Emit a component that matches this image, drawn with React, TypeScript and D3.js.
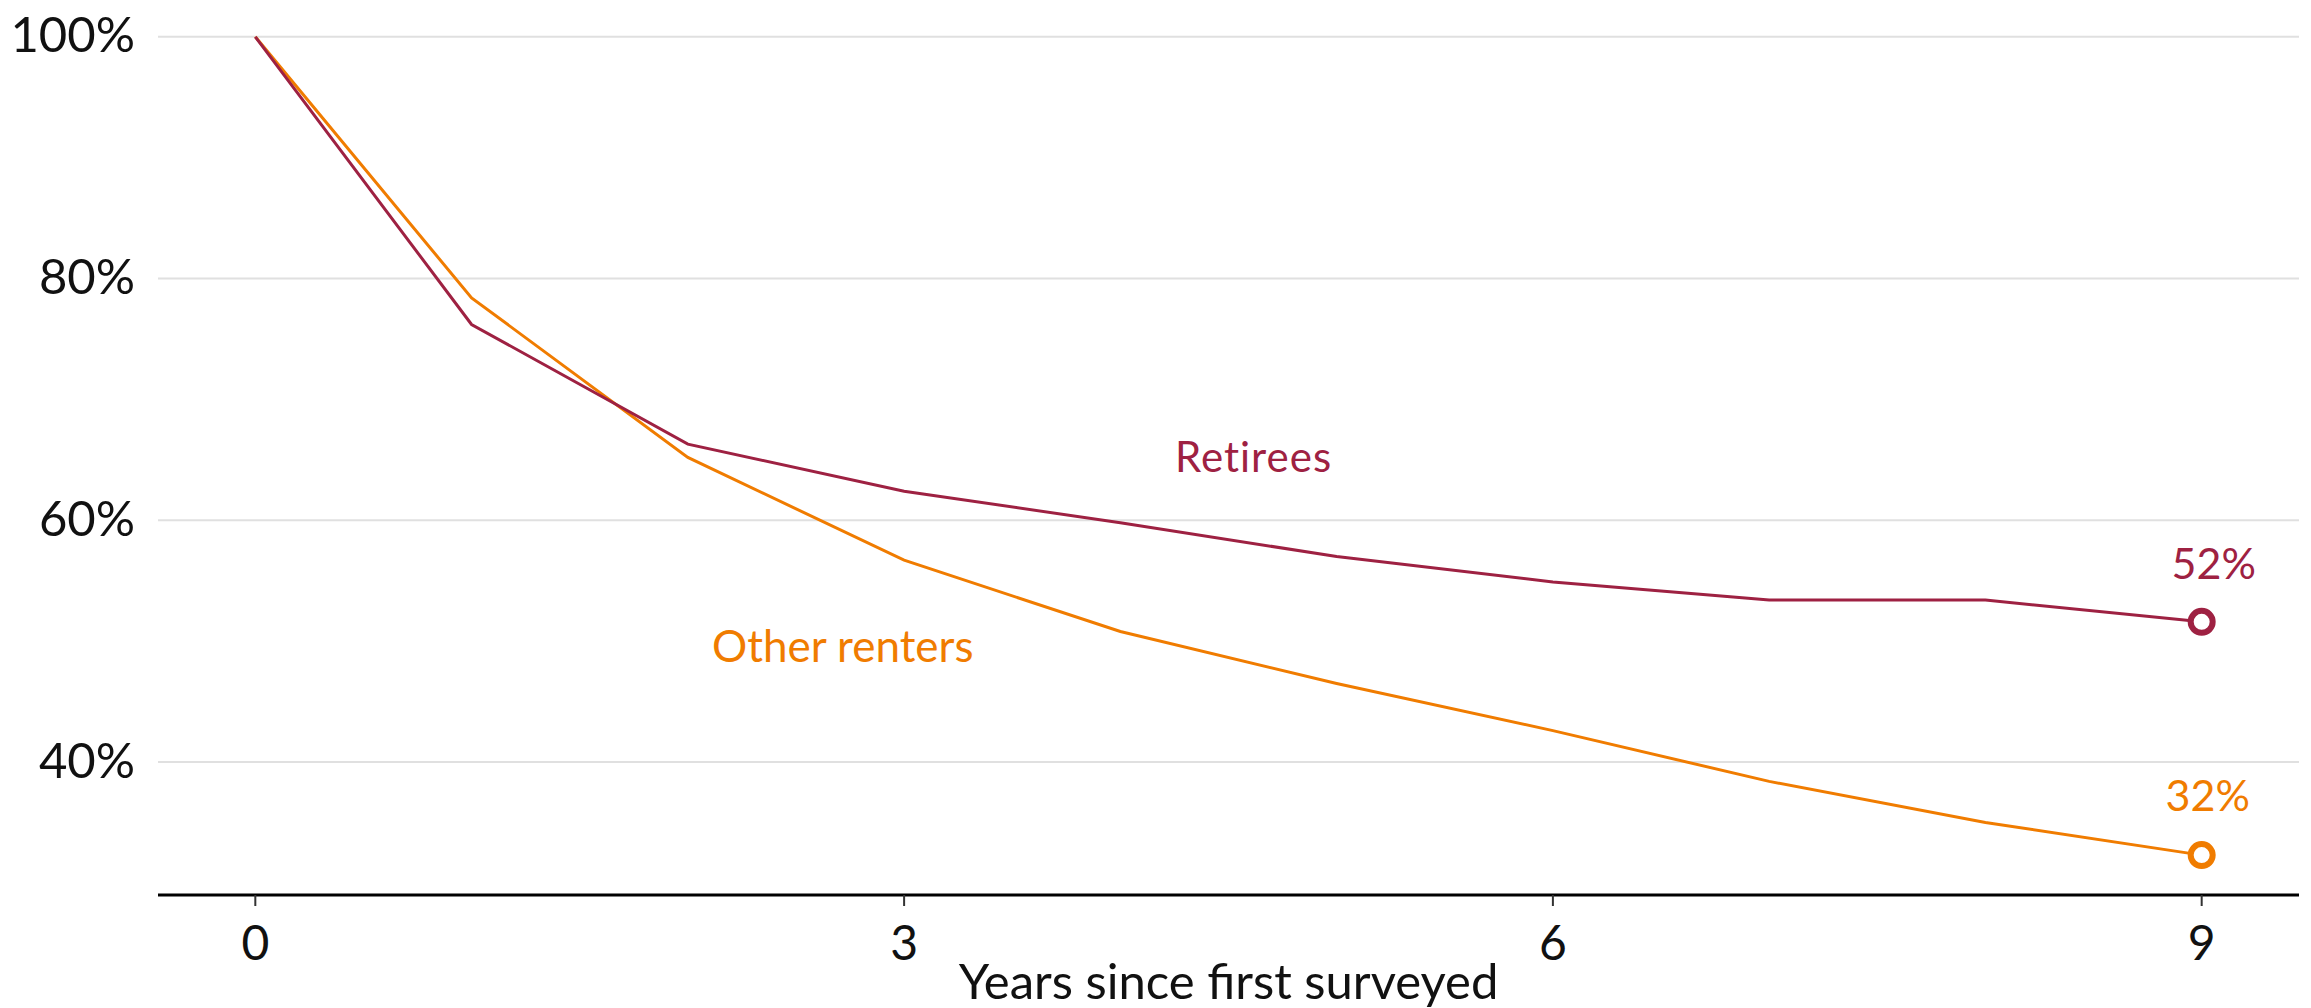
import React from 'react';
import { scaleLinear, line } from 'd3';

const years = [0, 1, 2, 3, 4, 5, 6, 7, 8, 9];
const retirees = [100, 76.2, 66.3, 62.4, 59.8, 57.0, 54.9, 53.4, 53.4, 51.6];
const otherRenters = [100, 78.4, 65.2, 56.7, 50.8, 46.5, 42.6, 38.4, 35.0, 32.3];
const yTicks = [40, 60, 80, 100];
const xTicks = [0, 3, 6, 9];

const RED = '#9e2142';
const ORANGE = '#f07c00';
const FONT = 'Lato, "Open Sans", sans-serif';

const W = 2311;
const H = 1008;

const App: React.FC = () => {
  const x = scaleLinear().domain([-0.45, 9.45]).range([158, 2299]);
  const y = scaleLinear().domain([29, 100]).range([895, 36.8]);

  const path = line<number>()
    .x((_, i) => x(years[i]))
    .y(d => y(d));

  const last = years.length - 1;

  return (
    <svg
      width={W}
      height={H}
      viewBox={`0 0 ${W} ${H}`}
      style={{ position: 'absolute', left: 0, top: 0, background: '#fff', fontFamily: FONT }}
    >
      {/* grid + y labels */}
      {yTicks.map(t => (
        <g key={t}>
          <line x1={x.range()[0]} x2={x.range()[1]} y1={y(t)} y2={y(t)} stroke="#e0e0e0" strokeWidth={2} />
          <text x={135} y={y(t)} dy="0.32em" textAnchor="end" fontSize={49} fill="#111">
            {t}%
          </text>
        </g>
      ))}

      {/* x axis */}
      <line x1={x.range()[0]} x2={x.range()[1]} y1={y(29)} y2={y(29)} stroke="#000" strokeWidth={3} />
      {xTicks.map(t => (
        <g key={t}>
          <line x1={x(t)} x2={x(t)} y1={y(29)} y2={y(29) + 11} stroke="#333" strokeWidth={2} />
          <text x={x(t)} y={960} textAnchor="middle" fontSize={48} fill="#111">
            {t}
          </text>
        </g>
      ))}
      <text x={(x.range()[0] + x.range()[1]) / 2} y={999} textAnchor="middle" fontSize={49} fill="#111">
        Years since first surveyed
      </text>

      {/* lines */}
      <path d={path(otherRenters) ?? ''} fill="none" stroke={ORANGE} strokeWidth={3} />
      <path d={path(retirees) ?? ''} fill="none" stroke={RED} strokeWidth={3} />

      {/* end markers */}
      <circle cx={x(years[last])} cy={y(retirees[last])} r={11} fill="#fff" stroke={RED} strokeWidth={6} />
      <circle cx={x(years[last])} cy={y(otherRenters[last])} r={11} fill="#fff" stroke={ORANGE} strokeWidth={6} />
      <text x={x(years[last]) + 12} y={y(retirees[last]) - 43} textAnchor="middle" fontSize={43} fill={RED}>
        {Math.round(retirees[last])}%
      </text>
      <text x={x(years[last]) + 6} y={y(otherRenters[last]) - 44} textAnchor="middle" fontSize={43} fill={ORANGE}>
        {Math.round(otherRenters[last])}%
      </text>

      {/* series labels */}
      <text x={1175} y={472} fontSize={42} fill={RED} letterSpacing={1}>
        Retirees
      </text>
      <text x={712} y={662} fontSize={44} fill={ORANGE}>
        Other renters
      </text>
    </svg>
  );
};

export default App;
